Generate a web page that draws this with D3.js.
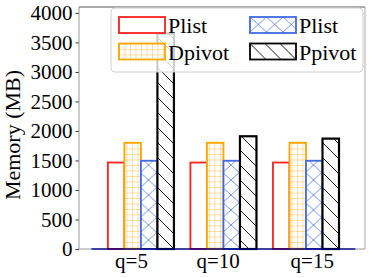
<!DOCTYPE html>
<html>
<head>
<meta charset="utf-8">
<script src="https://cdn.jsdelivr.net/npm/d3@7"></script>
<style>
  body { margin: 0; background: #fff; }
  svg { font-family: 'Liberation Serif', 'Times New Roman', serif; }
</style>
</head>
<body>
<div id="chart"></div>
<script>
const width = 374,
  height = 278;

// data
const groups = ['q=5', 'q=10', 'q=15'];
const seriesNames = ['Plist', 'Dpivot', 'Plist', 'Ppivot'];
const plistA = [1465, 1465, 1465];
const dpivot = [1800, 1800, 1800];
const plistB = [1495, 1495, 1495];
const ppivot = [3650, 1910, 1870];
const yTicks = [0, 500, 1000, 1500, 2000, 2500, 3000, 3500, 4000];
const tickSpots = [0.18, 1.23, 2.37];

const series = [plistA, dpivot, plistB, ppivot];
const colors = ['#ff2020', '#ffa500', '#4169e1', '#000000'];
const fills = ['#fff', 'url(#hPlus)', 'url(#hCross)', 'url(#hBack)'];

const margin = { top: 7, right: 9, bottom: 29, left: 79 };

const svg = d3
  .select('#chart')
  .append('svg')
  .attr('width', width)
  .attr('height', height);

// hatch patterns
const defs = svg.append('defs');
const plus = defs
  .append('pattern')
  .attr('id', 'hPlus')
  .attr('patternUnits', 'userSpaceOnUse')
  .attr('width', 5.5)
  .attr('height', 5.5);
plus.append('rect').attr('width', 5.5).attr('height', 5.5).attr('fill', '#fff');
plus
  .append('path')
  .attr('d', 'M0,0V5.5M0,0H5.5')
  .attr('stroke', '#ffa500')
  .attr('stroke-opacity', 0.75)
  .attr('stroke-width', 0.9);

const cross = defs
  .append('pattern')
  .attr('id', 'hCross')
  .attr('patternUnits', 'userSpaceOnUse')
  .attr('width', 16.5)
  .attr('height', 15);
cross.append('rect').attr('width', 16.5).attr('height', 15).attr('fill', '#fff');
cross
  .append('path')
  .attr('d', 'M0,0L16.5,15M16.5,0L0,15')
  .attr('stroke', '#4169e1')
  .attr('stroke-opacity', 0.8)
  .attr('stroke-width', 0.9);

const back = defs
  .append('pattern')
  .attr('id', 'hBack')
  .attr('patternUnits', 'userSpaceOnUse')
  .attr('width', 15)
  .attr('height', 15);
back.append('rect').attr('width', 15).attr('height', 15).attr('fill', '#fff');
back
  .append('path')
  .attr('d', 'M0,0L15,15M-7.5,7.5L7.5,22.5M7.5,-7.5L22.5,7.5')
  .attr('stroke', '#000')
  .attr('stroke-width', 0.9);

// scales
let x = d3.scaleLinear().domain([-0.45, 3.015]).range([margin.left, width - margin.right]);
let y = d3.scaleLinear().domain([0, 4100]).range([height - margin.bottom, margin.top]);

const bw = 0.2;

// bars
series.forEach((vals, k) => {
  svg
    .append('g')
    .selectAll('rect')
    .data(vals)
    .enter()
    .append('rect')
    .attr('x', (d, i) => x(i + k * bw - bw / 2))
    .attr('y', (d) => y(d))
    .attr('width', x(bw) - x(0))
    .attr('height', (d) => y(0) - y(d))
    .attr('fill', fills[k])
    .attr('stroke', colors[k])
    .attr('stroke-width', k === 3 ? 2.2 : 1.8);
});

// navy baseline
svg
  .append('line')
  .attr('x1', x(-0.3))
  .attr('x2', x(2.9))
  .attr('y1', y(0))
  .attr('y2', y(0))
  .attr('stroke', '#000080')
  .attr('stroke-width', 1.5);

// y axis
let yAxis = (g) =>
  g
    .attr('transform', `translate(${margin.left},0)`)
    .call(d3.axisLeft(y).tickValues(yTicks).tickFormat(d3.format('d')).tickSize(3.5).tickPadding(3))
    .call((g) => g.select('.domain').remove())
    .call((g) => g.selectAll('.tick line').attr('stroke', '#333'))
    .call((g) =>
      g
        .selectAll('.tick text')
        .attr('font-family', 'Liberation Serif')
        .attr('font-size', 21)
        .attr('fill', '#000')
    );
svg.append('g').call(yAxis);

// x axis labels
let xAxis = (g) =>
  g
    .attr('transform', `translate(0,${height - margin.bottom})`)
    .call(
      d3
        .axisBottom(x)
        .tickValues(tickSpots)
        .tickFormat((d, i) => groups[i])
        .tickSize(0)
        .tickPadding(4)
    )
    .call((g) => g.select('.domain').remove())
    .call((g) =>
      g
        .selectAll('.tick text')
        .attr('font-family', 'Liberation Serif')
        .attr('font-size', 21)
        .attr('fill', '#000')
    );
svg.append('g').call(xAxis);

// frame
const x0 = margin.left,
  x1 = width - margin.right,
  y0 = margin.top,
  y1 = height - margin.bottom;
svg.append('line').attr('x1', x0).attr('x2', x1).attr('y1', y0).attr('y2', y0).attr('stroke', '#555');
svg.append('line').attr('x1', x0).attr('x2', x0).attr('y1', y0).attr('y2', y1).attr('stroke', '#999');
svg.append('line').attr('x1', x1).attr('x2', x1).attr('y1', y0).attr('y2', y1).attr('stroke', '#aaa');
svg.append('line').attr('x1', x0).attr('x2', x(-0.3)).attr('y1', y1).attr('y2', y1).attr('stroke', '#999');
svg.append('line').attr('x1', x(2.9)).attr('x2', x1).attr('y1', y1).attr('y2', y1).attr('stroke', '#999');

// y label
svg
  .append('text')
  .attr('transform', `translate(20,${(y0 + y1) / 2 + 7}) rotate(-90)`)
  .attr('text-anchor', 'middle')
  .attr('font-size', 22)
  .text('Memory (MB)');

// legend
const legend = svg.append('g').attr('transform', 'translate(111,8)');
legend
  .append('rect')
  .attr('width', 252)
  .attr('height', 64)
  .attr('rx', 4)
  .attr('fill', '#fff')
  .attr('fill-opacity', 0.8)
  .attr('stroke', '#d0d0d0');

seriesNames.forEach((name, k) => {
  const col = Math.floor(k / 2),
    row = k % 2;
  const it = legend.append('g').attr('transform', `translate(${8 + col * 131},${9 + row * 26.5})`);
  it.append('rect')
    .attr('width', 46)
    .attr('height', 16)
    .attr('fill', fills[k])
    .attr('stroke', colors[k])
    .attr('stroke-width', 1.8);
  it.append('text')
    .attr('x', 49)
    .attr('y', 16)
    .attr('font-size', 22)
    .text(name);
});
</script>
</body>
</html>
